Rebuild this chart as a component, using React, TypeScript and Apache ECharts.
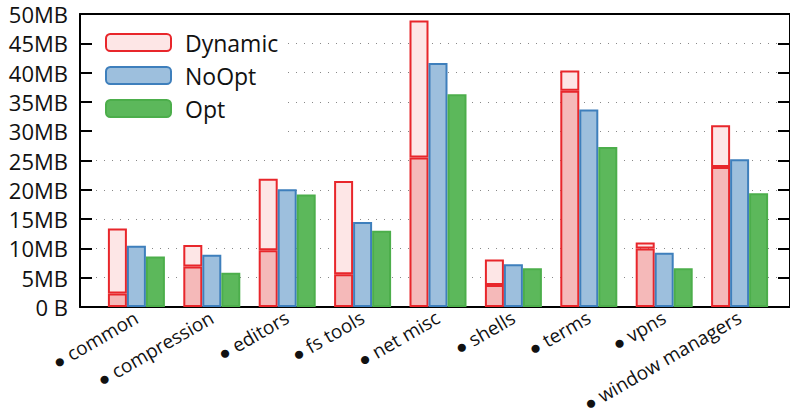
import React, { useEffect, useRef } from "react";
import * as echarts from "echarts";

const categories = ["common", "compression", "editors", "fs tools", "net misc", "shells", "terms", "vpns", "window managers"];
const dynamicBase = [2.3, 6.9, 9.7, 5.6, 25.5, 3.75, 36.9, 10.0, 23.9];
const dynamicTotal = [13.4, 10.6, 21.9, 21.5, 48.9, 8.1, 40.35, 11.0, 31.0];
const noOpt = [10.45, 8.9, 20.1, 14.5, 41.65, 7.3, 33.7, 9.26, 25.2];
const opt = [8.6, 5.85, 19.2, 13.0, 36.3, 6.6, 27.3, 6.6, 19.4];

const FONT = "Open Sans";

export default function App() {
  const ref = useRef<HTMLDivElement>(null);
  useEffect(() => {
    if (!ref.current) return;
    const chart = echarts.init(ref.current, undefined, { renderer: "svg" });
    const red = "#e8262b";
    const bar = { barWidth: 19, barGap: "0%", xAxisIndex: 2, yAxisIndex: 2 };
    const dynTop = dynamicTotal.map((t, i) => +(t - dynamicBase[i]).toFixed(3));
    chart.setOption({
      animation: false,
      textStyle: { fontFamily: FONT },
      grid: [
        { left: 80, top: 14, width: 714, height: 293 },
        { left: 98.7, top: 14, width: 678.6, height: 293 },
      ],
      legend: {
        orient: "vertical",
        left: 92,
        top: 15,
        padding: [16, 4, 14, 13],
        backgroundColor: "#ffffff",
        itemWidth: 65,
        itemHeight: 17,
        itemGap: 10,
        textStyle: { fontSize: 23, color: "#111", fontFamily: FONT, padding: [0, 0, 0, 9] },
        data: [
          { name: "Dynamic", itemStyle: { color: "#fde6e6", borderColor: red, borderWidth: 2 } },
          { name: "NoOpt", itemStyle: { color: "#9dbfdd", borderColor: "#3e7fbc", borderWidth: 2 } },
          { name: "Opt", itemStyle: { color: "#5cb85b", borderColor: "#4cae4b", borderWidth: 2 } },
        ],
      },
      xAxis: [
        {
          gridIndex: 0,
          type: "value",
          min: 0,
          max: 1,
          axisLine: { show: true, onZero: false, lineStyle: { color: "#000", width: 2 } },
          axisTick: { show: false },
          axisLabel: { show: false },
          splitLine: { show: false },
        },
        {
          gridIndex: 0,
          type: "value",
          position: "top",
          min: 0,
          max: 1,
          axisLine: { show: true, onZero: false, lineStyle: { color: "#000", width: 2 } },
          axisTick: { show: false },
          axisLabel: { show: false },
          splitLine: { show: false },
        },
        {
          gridIndex: 1,
          type: "category",
          data: categories,
          boundaryGap: true,
          axisLine: { show: false },
          axisTick: { show: false },
          splitLine: { show: false },
          axisLabel: {
            interval: 0,
            rotate: 30,
            fontSize: 19,
            color: "#111",
            fontFamily: FONT,
            margin: 9,
            formatter: (v: string) => "● " + v,
          },
        },
      ],
      yAxis: [
        {
          gridIndex: 0,
          type: "value",
          min: 0,
          max: 50,
          interval: 5,
          axisLine: { show: true, onZero: false, lineStyle: { color: "#000", width: 2 } },
          axisTick: { show: false },
          axisLabel: {
            fontSize: 22,
            color: "#111",
            fontFamily: FONT,
            margin: 12,
            formatter: (v: number) => (v === 0 ? "0 B" : v + "MB"),
          },
          splitLine: { show: true, lineStyle: { color: "#888", width: 1, type: [1, 7] } },
        },
        {
          gridIndex: 0,
          type: "value",
          position: "right",
          min: 0,
          max: 50,
          interval: 5,
          axisLine: { show: true, onZero: false, lineStyle: { color: "#000", width: 2 } },
          axisTick: { show: true, inside: true, length: 12, lineStyle: { color: "#000", width: 2 } },
          axisLabel: { show: false },
          splitLine: { show: false },
        },
        {
          gridIndex: 1,
          type: "value",
          min: 0,
          max: 50,
          interval: 5,
          axisLine: { show: false },
          axisTick: { show: false },
          axisLabel: { show: false },
          splitLine: { show: false },
        },
        {
          gridIndex: 1,
          type: "value",
          position: "left",
          offset: 6.7,
          min: 0,
          max: 50,
          interval: 5,
          axisLine: { show: false, onZero: false },
          axisTick: { show: true, inside: false, length: 12, lineStyle: { color: "#000", width: 2 } },
          axisLabel: { show: false },
          splitLine: { show: false },
        },
      ],
      series: [
        {
          name: "DynamicBase",
          type: "bar",
          stack: "dyn",
          ...bar,
          itemStyle: { color: "#f5b9b9", borderColor: red, borderWidth: 2 },
          data: dynamicBase,
        },
        {
          name: "Dynamic",
          type: "bar",
          stack: "dyn",
          ...bar,
          itemStyle: { color: "#fde6e6", borderColor: red, borderWidth: 2 },
          data: dynTop,
        },
        {
          name: "NoOpt",
          type: "bar",
          ...bar,
          itemStyle: { color: "#9dbfdd", borderColor: "#3e7fbc", borderWidth: 2 },
          data: noOpt,
        },
        {
          name: "Opt",
          type: "bar",
          ...bar,
          itemStyle: { color: "#5cb85b", borderColor: "#4cae4b", borderWidth: 2 },
          data: opt,
        },
      ],
    });
    return () => chart.dispose();
  }, []);
  return <div ref={ref} style={{ width: 790, height: 420, position: "absolute", left: 0, top: 0 }} />;
}
